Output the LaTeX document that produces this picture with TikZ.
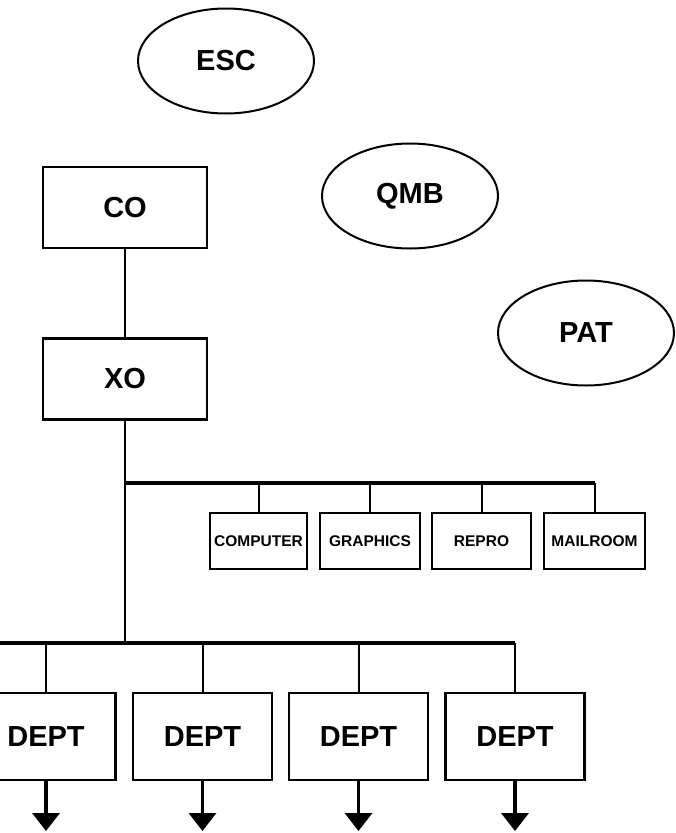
\documentclass[tikz,border=0pt]{standalone}
\usepackage{fontspec}
\setmainfont{Liberation Sans}
\usetikzlibrary{arrows.meta,shapes.geometric}
\begin{document}
\begin{tikzpicture}[x=1pt,y=-1pt,
  oval/.style={draw, ellipse, line width=2pt, minimum width=176pt, minimum height=105pt,
    inner sep=0pt, font=\fontsize{29}{32}\selectfont\bfseries},
  bigbox/.style={draw, rectangle, line width=2.2pt, minimum width=164pt, minimum height=81pt,
    inner sep=0pt, font=\fontsize{29}{32}\selectfont\bfseries},
  smallbox/.style={draw, rectangle, line width=2pt, minimum height=56pt,
    inner sep=0pt, font=\fontsize{15.5}{17}\selectfont\bfseries},
  deptbox/.style={draw, rectangle, line width=2.2pt, minimum width=139pt, minimum height=87pt,
    inner sep=0pt, font=\fontsize{29}{32}\selectfont\bfseries},
  link/.style={line width=2pt},
  bus/.style={line width=3.5pt},
  outflow/.style={line width=3.5pt, -{Triangle[length=18pt,width=27pt]}}]
  \clip (0,0) rectangle (676,833);
  \fill[white] (0,0) rectangle (676,833);

  % staff offices
  \node[oval] (esc) at (226,61) {ESC};
  \node[oval] (qmb) at (410,196) {QMB};
  \node[oval] (pat) at (586,333) {PAT};

  % command chain
  \node[bigbox] (co) at (125,207.5) {CO};
  \node[bigbox] (xo) at (125,379) {XO};
  \draw[link] (co) -- (xo);

  % support services
  \node[smallbox, minimum width=97pt]  (comp)  at (258.5,541) {COMPUTER};
  \node[smallbox, minimum width=100pt] (graph) at (370,541)   {GRAPHICS};
  \node[smallbox, minimum width=99pt]  (repro) at (481.5,541) {REPRO};
  \node[smallbox, minimum width=101pt] (mail)  at (594.5,541) {MAILROOM};

  \coordinate (ub) at (125,483);
  \coordinate (lb) at (125,643);
  \coordinate (lbw) at (-10,643);
  \coordinate (bot) at (0,831);

  \draw[link] (xo.south) -- (lb);
  \draw[bus] (ub) -- (ub -| mail.north);
  \foreach \n in {comp,graph,repro,mail}
    \draw[link] (\n.north) -- (\n.north |- ub);

  % departments
  \node[deptbox] (d1) at (46,736.5)    {DEPT};
  \node[deptbox] (d2) at (202.5,736.5) {DEPT};
  \node[deptbox] (d3) at (358.5,736.5) {DEPT};
  \node[deptbox] (d4) at (515,736.5)   {DEPT};

  \draw[bus] (lbw) -- (lb -| d4.north);
  \foreach \n in {d1,d2,d3,d4} {
    \draw[link] (\n.north) -- (\n.north |- lb);
    \draw[outflow] (\n.south) -- (\n.south |- bot);
  }
\end{tikzpicture}
\end{document}
